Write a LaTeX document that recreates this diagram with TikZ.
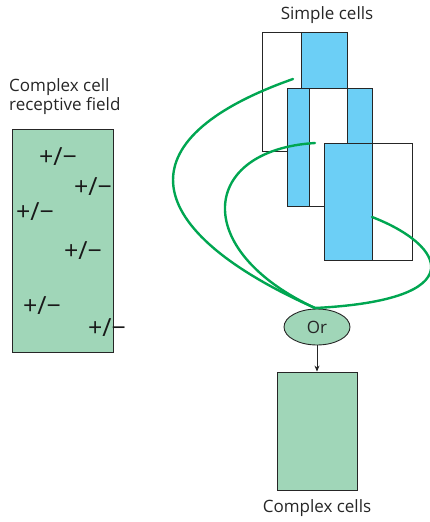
\documentclass[tikz,border=0pt]{standalone}
\usepackage{fontspec}
\setmainfont{Open Sans}
\usetikzlibrary{arrows.meta,shapes.geometric}
\definecolor{cellgreen}{RGB}{160,214,184}
\definecolor{cellblue}{RGB}{108,207,246}
\definecolor{wiregreen}{RGB}{0,166,81}
\begin{document}
\begin{tikzpicture}[x=1pt,y=-1pt,
  lbl/.style={font=\fontsize{17}{19}\selectfont, inner sep=0pt, text=black!85},
  pm/.style={font=\fontsize{25}{27}\selectfont, inner sep=0pt, text=black!90},
  box/.style={draw=black!85, line width=0.9pt},
  wire/.style={draw=wiregreen, line width=2.4pt}]
\useasboundingbox (0,0) rectangle (430,522);
% left receptive field
\node[lbl, anchor=west, align=left] (rflbl) at (9,97) {Complex cell\\receptive field};
\draw[box, fill=cellgreen] (12,129) rectangle (113,352);
\node[pm] (p1) at (58,157) {+/−};
\node[pm] (p2) at (93,187) {+/−};
\node[pm] (p3) at (35,212) {+/−};
\node[pm] (p4) at (83,251) {+/−};
\node[pm] (p5) at (42,306) {+/−};
\node[pm] (p6) at (107,328) {+/−};
% simple cells
\node[lbl] (sclbl) at (327,15) {Simple cells};
% cell 1
\draw[box, fill=white] (262,32) rectangle (301,151);
\draw[box, fill=cellblue] (301,32) rectangle (347,151);
% cell 2
\draw[box, fill=cellblue] (287,88) rectangle (309,206);
\draw[box, fill=white] (309,88) rectangle (347,206);
\draw[box, fill=cellblue] (347,88) rectangle (372,206);
% cell 3
\draw[box, fill=cellblue] (324,143) rectangle (372,260);
\draw[box, fill=white] (372,143) rectangle (412,260);
% Or node
\node[draw=black!85, line width=0.9pt, fill=cellgreen, ellipse, minimum width=66pt, minimum height=36pt, inner sep=0pt, lbl] (or) at (317,327) {Or};
\coordinate (s1) at (293,79);
\coordinate (s2) at (315,143);
\coordinate (s3) at (372,217);
\coordinate (ortop) at (315,308);
\draw[wire, line cap=round] (s1) .. controls (120,140) and (140,230) .. (ortop);
\draw[wire, line cap=round] (s2) .. controls (200,150) and (190,250) .. (ortop);
\draw[wire, line cap=round] (s3) .. controls (445,245) and (475,300) .. (ortop);
% complex cells
\node[draw=black!85, line width=0.9pt, fill=cellgreen, minimum width=80pt, minimum height=118pt, inner sep=0pt] (cc) at (317,431) {};
\draw[-{Stealth[length=6pt,width=5pt]}, black!85, line width=0.7pt] (or) -- (cc);
\node[lbl] (cclbl) at (317,508) {Complex cells};
\end{tikzpicture}
\end{document}
